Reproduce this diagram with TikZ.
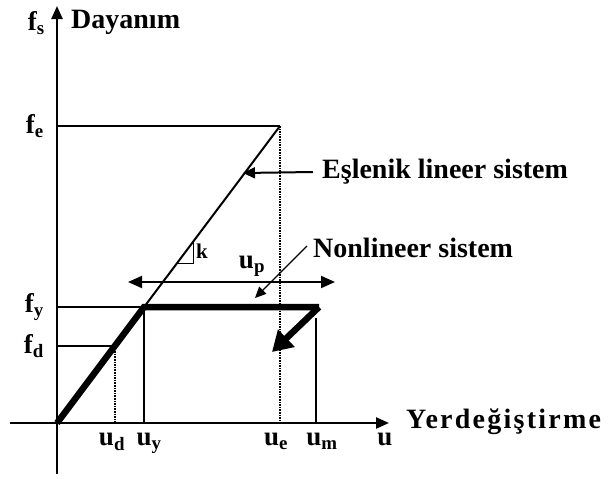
\documentclass[tikz,border=0pt]{standalone}
\usepackage{fontspec}
\setmainfont{Liberation Serif}
\usetikzlibrary{arrows.meta, positioning}

\begin{document}
\begin{tikzpicture}[
    x=1pt, y=-1pt,
    axis/.style={line width=2.4pt, -{Triangle[length=13pt, width=11pt]}},
    guide/.style={line width=1.3pt},
    dotguide/.style={line width=1.6pt, densely dotted},
    response/.style={line width=6.5pt, line join=miter},
    pointer/.style={line width=2pt, -{Triangle[length=12pt, width=11pt]}},
    lbl/.style={font=\fontsize{27}{29}\selectfont\bfseries, inner sep=0pt},
    caption/.style={font=\fontsize{28}{30}\selectfont\bfseries, inner sep=0pt, anchor=west},
]
    \useasboundingbox (0,0) rectangle (614,479);

    % axes
    \coordinate (origin) at (57,423);
    \coordinate (ytop) at (57,6);
    \coordinate (ybot) at (57,474);
    \coordinate (xleft) at (10,423);
    \coordinate (xright) at (389,423);
    \draw [axis] (ybot) -- (ytop);
    \draw [axis] (xleft) -- (xright);

    % key points
    \coordinate (elastic) at (280,126);
    \coordinate (yield) at (144,307);
    \coordinate (design) at (115,346);
    \coordinate (maxdisp) at (319,307);
    \coordinate (unload) at (272,352);
    \coordinate (feaxis) at (57,126);
    \coordinate (fyaxis) at (57,307);
    \coordinate (fdaxis) at (57,346);
    \coordinate (ueaxis) at (280,423);
    \coordinate (uyaxis) at (144,423);
    \coordinate (udaxis) at (115,423);
    \coordinate (umaxis) at (316,423);
    \coordinate (umtop) at (316,318);

    % guide lines
    \draw [line width=2pt] (feaxis) -- (elastic);
    \draw [guide] (fyaxis) -- (yield);
    \draw [guide] (fdaxis) -- (design);
    \draw [dotguide] (elastic) -- (ueaxis);
    \draw [guide] (yield) -- (uyaxis);
    \draw [dotguide] (design) -- (udaxis);
    \draw [guide] (umtop) -- (umaxis);

    % equivalent linear system
    \draw [line width=2pt] (origin) -- (elastic);

    % nonlinear system
    \draw [response] (origin) -- (yield) -- (maxdisp);
    \draw [response, -{Triangle[length=20pt, width=23pt]}] (maxdisp) -- (unload);

    % slope triangle
    \coordinate (ka) at (177,263);
    \coordinate (kb) at (193,263);
    \coordinate (kc) at (193,242);
    \draw [line width=1pt] (ka) -- (kb) -- (kc);
    \node (klbl) [lbl, anchor=west, font=\fontsize{21}{23}\selectfont\bfseries] at (196,251) {k};

    % plastic displacement
    \coordinate (upleft) at (128,282);
    \coordinate (upright) at (335,282);
    \draw [line width=2pt, {Triangle[length=14pt, width=12pt]}-{Triangle[length=14pt, width=12pt]}] (upleft) -- (upright);
    \node (uplbl) [lbl] at (252,266) {u\textsubscript{p}};

    % axis labels
    \node (fslbl) [lbl, left=12pt of ytop, yshift=-17pt] {f\textsubscript{s}};
    \node (dayanim) [caption] at (71,22) {Dayanım};
    \node (felbl) [lbl, left=13pt of feaxis] {f\textsubscript{e}};
    \node (fylbl) [lbl, left=13pt of fyaxis] {f\textsubscript{y}};
    \node (fdlbl) [lbl, left=13pt of fdaxis] {f\textsubscript{d}};
    \node (udlbl) [lbl, below=10pt of udaxis, xshift=-3pt] {u\textsubscript{d}};
    \node (uylbl) [lbl, below=10pt of uyaxis, xshift=5pt] {u\textsubscript{y}};
    \node (uelbl) [lbl, below=10pt of ueaxis, xshift=-4pt] {u\textsubscript{e}};
    \node (umlbl) [lbl, below=10pt of umaxis, xshift=6pt] {u\textsubscript{m}};
    \node (ulbl) [lbl, below=10pt of xright, xshift=-4pt] {u};
    \node (yerdeg) [caption, font=\fontsize{28}{30}\selectfont\bfseries\addfontfeature{LetterSpace=8}] at (406,422) {Yerdeğiştirme};

    % system labels
    \node (esdeger) [caption] at (322,172) {Eşlenik lineer sistem};
    \node (nonlin) [caption] at (313,248) {Nonlineer sistem};
    \coordinate (estip) at (243,173);
    \coordinate (nltip) at (255,298);
    \draw [pointer] (esdeger.west) ++(-9pt,0) coordinate (esstart) -- (estip);
    \draw [line width=1.2pt, -{Triangle[length=11pt, width=10pt]}] (nonlin.west) ++(-6pt,2pt) coordinate (nlstart) -- (nltip);
\end{tikzpicture}
\end{document}
